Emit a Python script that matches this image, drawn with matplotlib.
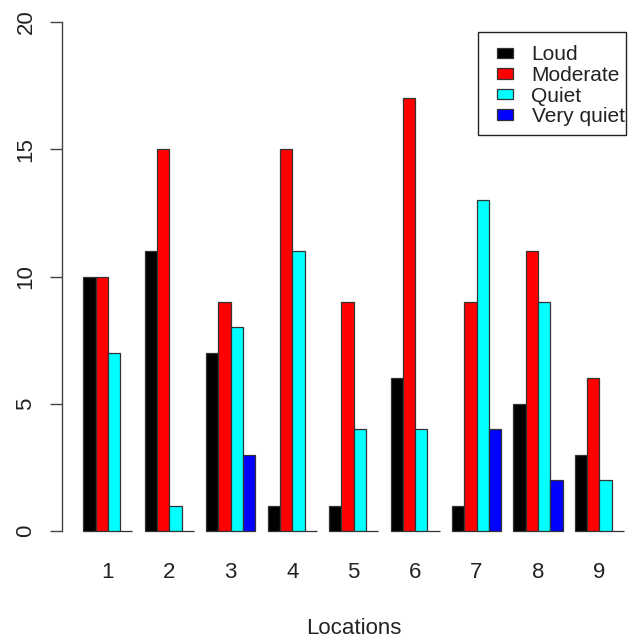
import matplotlib
matplotlib.use("Agg")
import matplotlib.pyplot as plt
from matplotlib.patches import Rectangle

# Noise level counts per location
locations = ["1", "2", "3", "4", "5", "6", "7", "8", "9"]
levels = ["Loud", "Moderate", "Quiet", "Very quiet"]
loud = [10, 11, 7, 1, 1, 6, 1, 5, 3]
moderate = [10, 15, 9, 15, 9, 17, 9, 11, 6]
quiet = [7, 1, 8, 11, 4, 4, 13, 9, 2]
very_quiet = [0, 0, 3, 0, 0, 0, 4, 2, 0]
series = [loud, moderate, quiet, very_quiet]
colors = ["#000000", "#FF0000", "#00FFFF", "#0000FF"]

W, H = 634, 641
plt.rcParams["font.family"] = ["Liberation Sans", "DejaVu Sans"]
fig = plt.figure(figsize=(W / 100, H / 100), dpi=100)

# plot region in pixels (R-style barplot with 4% padding)
left_px, right_px = 61.7, 645.6
top_px, bottom_px = 1.6, 551.4
ax = fig.add_axes([left_px / W, 1 - bottom_px / H,
                   (right_px - left_px) / W, (bottom_px - top_px) / H])

n_groups = len(locations)
n_series = len(series)
edge = "#333333"
for k, vals in enumerate(series):
    xs = [g * (n_series + 1) + 1 + k for g in range(n_groups)]
    ax.bar(xs, vals, width=1, align="edge", color=colors[k],
           edgecolor=edge, linewidth=0.9)

x_lo, x_hi = 1, n_groups * (n_series + 1)
pad = 0.04 * (x_hi - x_lo)
ax.set_xlim(x_lo - pad, x_hi + pad)
ax.set_ylim(-0.8, 20.8)

for s in ["top", "right", "bottom"]:
    ax.spines[s].set_visible(False)
ax.spines["left"].set_bounds(0, 20)
ax.spines["left"].set_color("#444444")
ax.spines["left"].set_linewidth(1.0)

ax.set_yticks([0, 5, 10, 15, 20])
ax.set_yticklabels(["0", "5", "10", "15", "20"])
ax.tick_params(axis="y", length=8.6, width=1.0, color="#444444",
               labelsize=16, labelcolor="#222222", pad=9.6, labelrotation=90)
for lab in ax.get_yticklabels():
    lab.set_va("center")

centers = [g * (n_series + 1) + 1 + n_series / 2 for g in range(n_groups)]
ax.set_xticks(centers)
ax.set_xticklabels(locations)
ax.tick_params(axis="x", length=0, labelsize=16, labelcolor="#222222", pad=7.6)

fig.text((left_px + right_px) / 2 / W, 1 - 628 / H, "Locations",
         ha="center", va="center", fontsize=16, color="#222222")

# legend box drawn in figure pixels
def fx(x):
    return x / W

def fy(y):
    return 1 - y / H

box_l, box_r, box_t, box_b = 477.5, 625.7, 31.8, 135.0
fig.add_artist(Rectangle((fx(box_l), fy(box_b)), fx(box_r) - fx(box_l),
                         fy(box_t) - fy(box_b), transform=fig.transFigure,
                         facecolor="white", edgecolor="#222222", linewidth=1.0))
row_y = [53.0, 73.5, 94.0, 114.5]
for lvl, c, yc in zip(levels, colors, row_y):
    fig.add_artist(Rectangle((fx(496.7), fy(yc + 5.3)), fx(512.7) - fx(496.7),
                             fy(yc - 5.3) - fy(yc + 5.3), transform=fig.transFigure,
                             facecolor=c, edgecolor=edge, linewidth=0.9))
    fig.text(fx(531.5), fy(yc + 2.0), lvl, ha="left", va="center",
             fontsize=15, color="#222222")

fig.savefig("out.png", dpi=100)
